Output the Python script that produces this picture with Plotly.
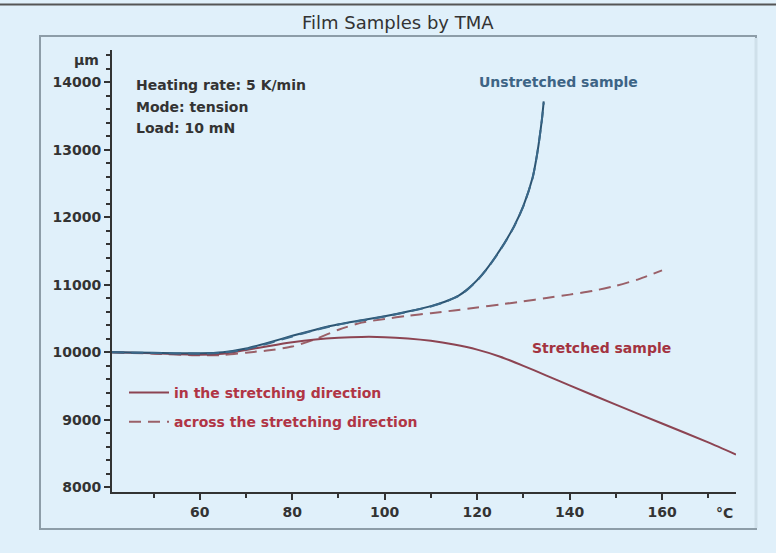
import plotly.graph_objects as go

# ---------------- data ----------------
temp_unstretched = [41, 50, 60, 65, 70, 75, 80, 85, 90, 95, 100, 105, 110, 113, 116,
                    118, 120, 122, 124, 126, 128, 130, 132, 133, 134, 134.4]
unstretched_in = [10000, 9992, 9985, 10000, 10055, 10145, 10245, 10335, 10415, 10475,
                  10535, 10605, 10685, 10750, 10840, 10940, 11070, 11230, 11420, 11630,
                  11870, 12170, 12590, 12950, 13450, 13720]
unstretched_across = [10000, 9990, 9980, 9995, 10045, 10135, 10235, 10330, 10410, 10470,
                      10530, 10600, 10680, 10745, 10835, 10935, 11065, 11225, 11415, 11625,
                      11865, 12165, 12585, 12945, 13440, 13700]

temp_stretched_in = [41, 50, 60, 65, 70, 75, 80, 85, 90, 95, 100, 105, 110, 115, 120,
                     125, 130, 135, 140, 150, 160, 170, 176]
stretched_in = [10000, 9985, 9965, 9978, 10035, 10095, 10150, 10190, 10215, 10228, 10225,
                10205, 10170, 10115, 10040, 9935, 9800, 9655, 9510, 9225, 8945, 8665, 8485]

temp_stretched_across = [41, 50, 60, 65, 70, 75, 80, 85, 90, 95, 100, 105, 110, 115, 120,
                         125, 130, 135, 140, 145, 150, 155, 160]
stretched_across = [10000, 9980, 9955, 9960, 9995, 10030, 10085, 10195, 10335, 10440, 10495,
                    10540, 10580, 10620, 10665, 10710, 10755, 10805, 10855, 10910, 10985,
                    11085, 11215]

x_ticks = [60, 80, 100, 120, 140, 160]
y_ticks = [8000, 9000, 10000, 11000, 12000, 13000, 14000]

title_text = "Film Samples by TMA"
conditions = ["Heating rate: 5 K/min", "Mode: tension", "Load: 10 mN"]
legend_names = ["in the stretching direction", "across the stretching direction"]

# ---------------- geometry / style ----------------
W, H = 776, 553
ML, MR, MT, MB = 112, 40, 50, 61
BG = "#e0f0fa"
AX = "#333333"
BLUE = "#2c5573"
BLUE_D = "#3a6889"
RED = "#8c4452"
RED_D = "#9a6068"
FONT = "DejaVu Sans"


def px(xp):
    return (xp - ML) / (W - ML - MR)


def py(yp):
    return (H - MB - yp) / (H - MT - MB)


fig = go.Figure()

fig.add_trace(go.Scatter(x=temp_stretched_across, y=stretched_across, mode="lines",
                         name=legend_names[1], legendgroup="b", legendrank=2,
                         line=dict(color=RED_D, width=2, dash="12px,7px",
                                   shape="spline", smoothing=0.6)))
fig.add_trace(go.Scatter(x=temp_stretched_in, y=stretched_in, mode="lines",
                         name=legend_names[0], legendgroup="a", legendrank=1,
                         line=dict(color=RED, width=2, shape="spline", smoothing=0.6)))
fig.add_trace(go.Scatter(x=temp_unstretched, y=unstretched_in, mode="lines",
                         showlegend=False,
                         line=dict(color=BLUE, width=2, shape="spline", smoothing=0.6)))
fig.add_trace(go.Scatter(x=temp_unstretched, y=unstretched_across, mode="lines",
                         showlegend=False,
                         line=dict(color=BLUE_D, width=2, dash="12px,7px",
                                   shape="spline", smoothing=0.6)))

annotations = [
    dict(text=title_text, xref="paper", yref="paper", x=px(398), y=py(23),
         xanchor="center", yanchor="middle", showarrow=False,
         font=dict(family=FONT, size=18, color="#333333")),
    dict(text="µm", xref="paper", yref="paper", x=px(101), y=py(60),
         xanchor="right", yanchor="middle", showarrow=False,
         font=dict(family=FONT, size=14, color=AX, weight="bold")),
    dict(text="°C", xref="paper", yref="paper", x=px(735), y=py(513),
         xanchor="right", yanchor="middle", showarrow=False,
         font=dict(family=FONT, size=14, color=AX, weight="bold")),
    dict(text="Unstretched sample", xref="paper", yref="paper", x=px(558), y=py(82),
         xanchor="center", yanchor="middle", showarrow=False,
         font=dict(family=FONT, size=14, color="#3d6485", weight="bold")),
    dict(text="Stretched sample", xref="paper", yref="paper", x=px(601), y=py(348),
         xanchor="center", yanchor="middle", showarrow=False,
         font=dict(family=FONT, size=14, color="#a33340", weight="bold")),
]
for txt, yp in zip(conditions, [85, 107, 128]):
    annotations.append(dict(text=txt, xref="paper", yref="paper", x=px(134), y=py(yp),
                            xanchor="left", yanchor="middle", showarrow=False,
                            font=dict(family=FONT, size=14, color=AX, weight="bold")))

shapes = [
    # top dark rule
    dict(type="line", xref="paper", yref="paper", x0=px(0), x1=px(W), y0=py(4.5), y1=py(4.5),
         line=dict(color="#555555", width=2)),
    # inner frame
    dict(type="rect", xref="paper", yref="paper", x0=px(40), x1=px(756), y0=py(529), y1=py(36),
         line=dict(color="#8d9da8", width=2), layer="below"),
    dict(type="line", xref="paper", yref="paper", x0=px(756), x1=px(756), y0=py(528), y1=py(38),
         line=dict(color="#cfe0ea", width=3), layer="below"),
]

fig.update_layout(
    width=W, height=H,
    margin=dict(l=ML, r=MR, t=MT, b=MB),
    paper_bgcolor=BG, plot_bgcolor=BG,
    font=dict(family=FONT, size=14, color=AX),
    annotations=annotations,
    shapes=shapes,
    showlegend=True,
    legend=dict(x=px(124), y=py(377), xanchor="left", yanchor="top",
                bgcolor="rgba(0,0,0,0)", traceorder="grouped", tracegroupgap=8,
                font=dict(family=FONT, size=14, color="#b03545", weight="bold"),
                itemwidth=40),
    xaxis=dict(range=[41, 176], tickvals=x_ticks, tickformat="d", showgrid=False,
               zeroline=False, showline=True, linecolor=AX, linewidth=2,
               ticks="outside", ticklen=6, tickwidth=2, tickcolor=AX,
               tickfont=dict(family=FONT, size=14, color=AX, weight="bold"),
               minor=dict(dtick=10, tick0=0, ticks="outside", ticklen=4, tickwidth=2,
                          tickcolor=AX, showgrid=False)),
    yaxis=dict(range=[7930, 14480], tickvals=y_ticks, tickformat="d", showgrid=False,
               zeroline=False, showline=True, linecolor=AX, linewidth=2,
               ticks="outside", ticklen=6, tickwidth=2, tickcolor=AX,
               tickfont=dict(family=FONT, size=14, color=AX, weight="bold"),
               minor=dict(dtick=200, tick0=0, ticks="outside", ticklen=4, tickwidth=2,
                          tickcolor=AX, showgrid=False)),
)

fig.write_html("out.html", config={"displayModeBar": False},
               post_script="document.body.style.margin='0';document.body.style.padding='0';")
